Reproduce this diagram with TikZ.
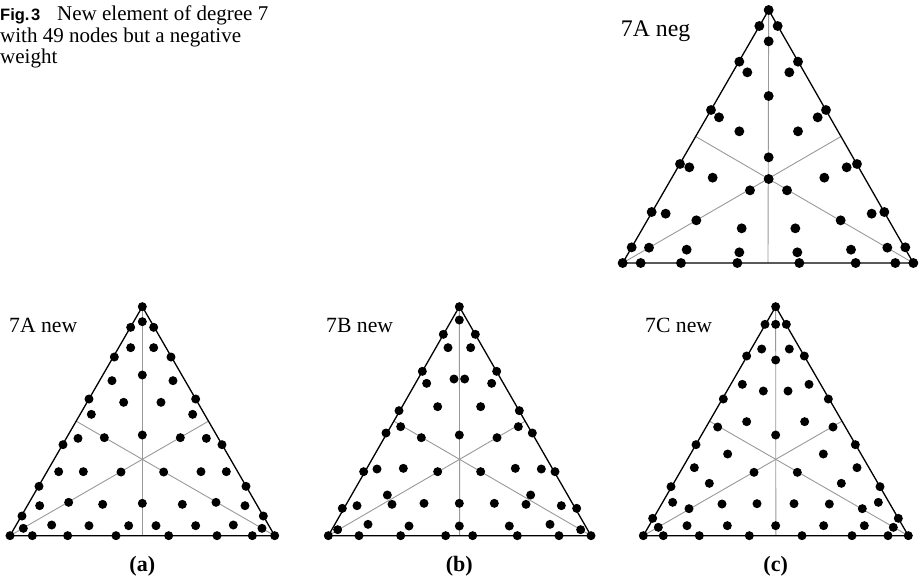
\documentclass[tikz,border=0pt]{standalone}
\usepackage{fontspec}
\setmainfont{Liberation Serif}
\setsansfont{Liberation Sans}
\usetikzlibrary{calc}
\tikzset{
  trisides/.style={line width=1.3pt, black, line join=miter},
  medianline/.style={line width=0.9pt, black!40},
  bigdot/.style={circle, fill=black, draw=none, inner sep=0pt, minimum size=9.9pt},
  smalldot/.style={circle, fill=black, draw=none, inner sep=0pt, minimum size=9pt},
  captext/.style={anchor=base west, inner sep=0pt, font=\fontsize{21}{22}\selectfont},
  labtext/.style={anchor=base west, inner sep=0pt, font=\fontsize{21.7}{24}\selectfont},
  biglabtext/.style={anchor=base west, inner sep=0pt, font=\fontsize{23.8}{26}\selectfont},
  subtext/.style={anchor=base, inner sep=0pt, font=\bfseries\fontsize{22}{24}\selectfont}
}
\begin{document}
\begin{tikzpicture}[x=1pt,y=-1pt]
\useasboundingbox (0,0) rectangle (922,579);

% caption
\node[captext] (cap0) at (0,20.5) {\sffamily\bfseries\fontsize{16.5}{18}\selectfont Fig.\hspace{1.5pt}3};
\node[captext] (cap1) at (57,20.5) {New element of degree 7};
\node[captext] (cap2) at (0,42.7) {with 49 nodes but a negative};
\node[captext] (cap3) at (0,63.5) {weight};

% ---------- 7A neg ----------
\node[biglabtext] (labneg) at (620.7,36.7) {7A neg};
\begin{scope}[shift={(600,0)}, scale=1/3]
  \coordinate (tA) at (506,30);
  \coordinate (tB) at (68,789);
  \coordinate (tC) at (940,789);
  \draw[medianline] (tA) -- ($(tB)!0.5!(tC)$);
  \draw[medianline] (tB) -- ($(tA)!0.5!(tC)$);
  \draw[medianline] (tC) -- ($(tA)!0.5!(tB)$);
  \draw[trisides] (tA) -- (tB) -- (tC) -- cycle;
  \foreach \x/\y [count=\i] in {506/30,478/78,533/78,506/124,418/185,594/185,442/217,568/217,506/288,
    333/330,678/330,357/352,653/352,418/394,594/394,506/472,240/492,771/492,268/502,740/502,
    338/533,673/533,506/537,450/571,561/571,155/636,853/636,197/641,815/641,289/661,722/661,
    425/685,586/685,95/742,916/742,147/743,862/743,260/749,753/749,418/757,592/757,
    68/789,122/789,243/789,412/789,598/789,767/789,886/789,940/789}
    \node[bigdot] (t\i) at (\x,\y) {};
\end{scope}

% ---------- 7A new ----------
\node[labtext] (laba) at (9,332) {7A new};
\begin{scope}[shift={(0,295)}, scale=1/3]
  \coordinate (aA) at (427,35);
  \coordinate (aB) at (30,722);
  \coordinate (aC) at (824,722);
  \draw[medianline] (aA) -- ($(aB)!0.5!(aC)$);
  \draw[medianline] (aB) -- ($(aA)!0.5!(aC)$);
  \draw[medianline] (aC) -- ($(aA)!0.5!(aB)$);
  \draw[trisides] (aA) -- (aB) -- (aC) -- cycle;
  \foreach \x/\y [count=\i] in {427/35,427/80,392/97,461/97,392/158,461/158,343/186,513/186,427/240,
    336/257,519/257,267/312,587/312,371/322,483/322,274/358,578/358,427/420,234/430,619/430,
    313/428,541/428,189/449,666/449,176/530,679/530,250/530,603/530,363/531,491/531,
    117/574,738/574,206/622,648/622,119/632,735/632,308/628,547/628,427/625,
    66/663,790/663,70/700,786/700,155/690,700/690,267/692,587/692,386/692,468/692,
    30/722,97/722,203/722,348/722,506/722,651/722,757/722,824/722}
    \node[smalldot] (a\i) at (\x,\y) {};
\end{scope}
\node[subtext] (suba) at (142.3,571) {(a)};

% ---------- 7B new ----------
\node[labtext] (labb) at (326,332) {7B new};
\begin{scope}[shift={(300,295)}, scale=1/3]
  \coordinate (bA) at (478,35);
  \coordinate (bB) at (85,722);
  \coordinate (bC) at (873,722);
  \draw[medianline] (bA) -- ($(bB)!0.5!(bC)$);
  \draw[medianline] (bB) -- ($(bA)!0.5!(bC)$);
  \draw[medianline] (bC) -- ($(bA)!0.5!(bB)$);
  \draw[trisides] (bA) -- (bB) -- (bC) -- cycle;
  \foreach \x/\y [count=\i] in {478/35,478/75,430/118,526/118,444/158,512/158,367/229,590/229,
    380/265,575/265,462/252,494/252,297/347,658/347,413/335,542/335,302/395,655/395,
    258/414,697/414,364/428,591/428,478/420,191/530,765/530,231/522,724/522,310/520,646/520,
    413/530,542/530,262/600,692/600,127/640,830/640,171/632,784/632,276/628,678/628,
    372/625,583/625,478/625,113/704,842/704,204/688,750/688,327/693,628/693,478/693,
    85/722,177/722,302/722,437/722,518/722,652/722,777/722,873/722}
    \node[smalldot] (b\i) at (\x,\y) {};
\end{scope}
\node[subtext] (subb) at (459.3,571) {(b)};

% ---------- 7C new ----------
\node[labtext] (labc) at (645,332) {7C new};
\begin{scope}[shift={(610,295)}, scale=1/3]
  \coordinate (cA) at (497,35);
  \coordinate (cB) at (100,722);
  \coordinate (cC) at (895,722);
  \draw[medianline] (cA) -- ($(cB)!0.5!(cC)$);
  \draw[medianline] (cB) -- ($(cA)!0.5!(cC)$);
  \draw[medianline] (cC) -- ($(cA)!0.5!(cB)$);
  \draw[trisides] (cA) -- (cB) -- (cC) -- cycle;
  \foreach \x/\y [count=\i] in {497/35,465/88,497/88,529/88,455/162,538/162,410/183,583/183,497/195,
    397/268,597/268,460/288,534/288,340/312,655/312,410/380,584/380,323/396,669/396,497/420,
    258/449,736/449,353/477,640/477,253/518,741/518,432/532,562/532,298/565,694/565,
    183/575,810/575,188/622,805/622,237/641,757/641,336/627,658/627,441/626,552/626,
    128/670,865/670,145/697,850/697,231/692,763/692,352/692,641/692,497/692,
    100/722,160/722,268/722,418/722,576/722,726/722,834/722,895/722}
    \node[smalldot] (c\i) at (\x,\y) {};
\end{scope}
\node[subtext] (subc) at (775.7,571) {(c)};
\end{tikzpicture}
\end{document}
